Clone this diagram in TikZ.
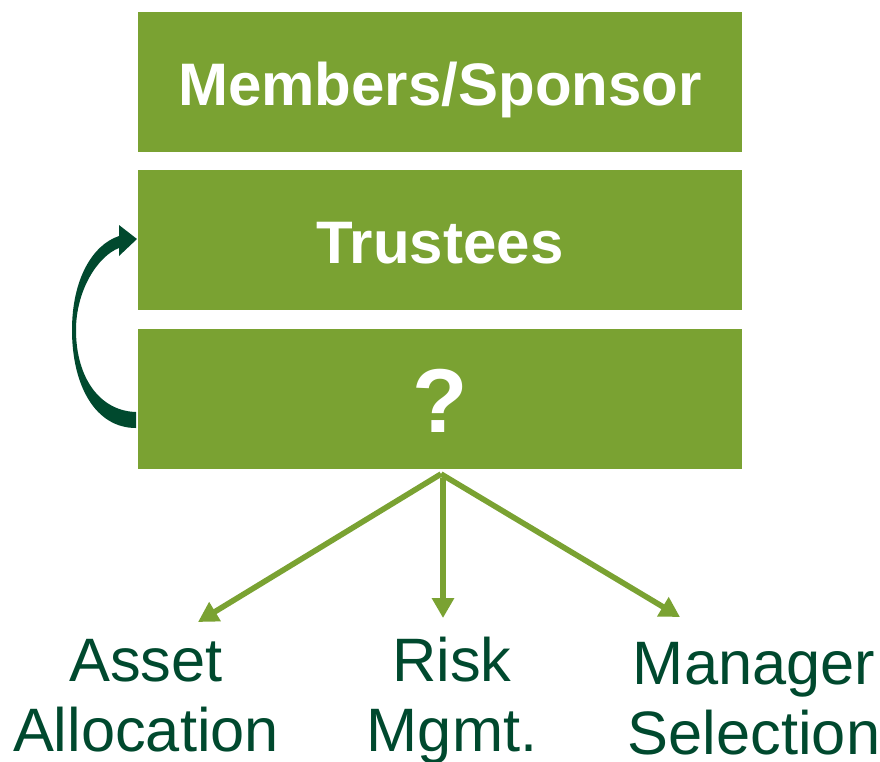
\documentclass[tikz,border=0pt]{standalone}
\usepackage{fontspec}
\setmainfont{Liberation Sans}
\usetikzlibrary{arrows.meta}
\definecolor{boxg}{RGB}{122,162,50}
\definecolor{darkg}{RGB}{0,73,46}
\tikzset{
  bigbox/.style={fill=boxg, minimum width=453pt, minimum height=105pt, inner sep=0pt,
    text=white, font=\fontsize{45}{50}\selectfont\bfseries, text height=34.5pt, text depth=0pt},
  lbl/.style={text=darkg, align=center, anchor=base, inner sep=0pt,
    font=\fontsize{46}{52.5}\selectfont},
  garrow/.style={draw=boxg, line width=4.2pt, -{Triangle[length=15pt,width=16pt]}}
}
\begin{document}
\begin{tikzpicture}[x=0.75pt,y=-0.75pt]
\useasboundingbox (0,0) rectangle (880,761);
\node[bigbox] (ms) at (440,82) {Members/Sponsor};
\node[bigbox] (tr) at (440,240) {Trustees};
\node[bigbox, font=\fontsize{68}{70}\selectfont\bfseries, text height=49.5pt] (q) at (440,399) {?};
% curved feedback arrow from ? to Trustees
\fill[darkg] (136,428) .. controls (95,428) and (72,385) .. (72,330)
  .. controls (72,280) and (92,245) .. (119,236) -- (119,225) -- (137,239) -- (119,256) -- (119,248)
  .. controls (98,256) and (76,290) .. (76,330)
  .. controls (76,378) and (100,411) .. (136,412) -- cycle;
% labels (base anchor = last line)
\node[lbl] (aa) at (146,751) {Asset\\Allocation};
\node[lbl] (rm) at (452,751) {Risk\\Mgmt.};
\node[lbl] (mgs) at (754,754) {Manager\\Selection};
% connectors
\coordinate (apex) at (441,474);
\coordinate (tA) at (198,622);
\coordinate (mS) at (443,478);
\coordinate (tR) at (443,618);
\coordinate (tM) at (680,617);
\draw[garrow] (apex) -- (tA);
\draw[garrow] (mS) -- (tR);
\draw[garrow] (apex) -- (tM);
\end{tikzpicture}
\end{document}
